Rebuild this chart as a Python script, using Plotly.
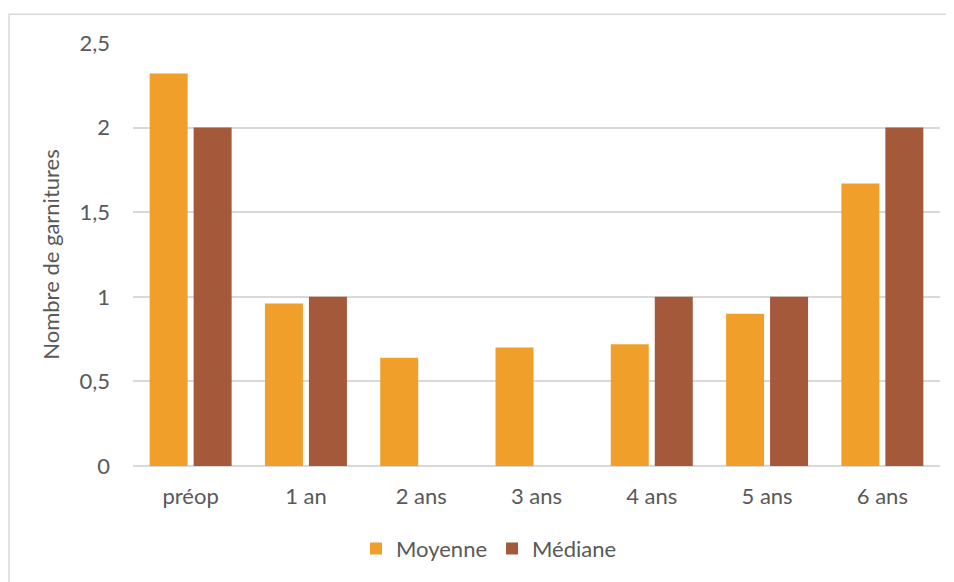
import plotly.graph_objects as go

categories = ["préop", "1 an", "2 ans", "3 ans", "4 ans", "5 ans", "6 ans"]
moyenne = [2.32, 0.96, 0.64, 0.70, 0.72, 0.90, 1.67]
mediane = [2.0, 1.0, 0.0, 0.0, 1.0, 1.0, 2.0]
y_tickvals = [0, 0.5, 1, 1.5, 2, 2.5]
y_ticktext = ["0", "0,5", "1", "1,5", "2", "2,5"]

FONT = "Lato, 'Open Sans', sans-serif"
GREY = "#595959"
FS = 22

fig = go.Figure()
fig.add_trace(go.Bar(
    name="Moyenne", x=categories, y=moyenne,
    marker=dict(color="#F0A02A", line=dict(width=0)),
))
fig.add_trace(go.Bar(
    name="Médiane", x=categories, y=mediane,
    marker=dict(color="#A4593A", line=dict(width=0)),
))

# page body has an 8px margin, so figure coordinates = page - 8
W, H = 946, 574
L, R, T, B = 125, 14, 35, 114
pw, ph = W - L - R, H - T - B

def px_x(x):
    return (x - L) / pw

def px_y(y):
    return (H - B - y) / ph

fig.add_shape(type="rect", xref="paper", yref="paper",
              x0=px_x(1), x1=px_x(990), y0=px_y(620), y1=px_y(6),
              line=dict(color="#D9D9D9", width=1.5), fillcolor="rgba(0,0,0,0)",
              layer="below")

fig.update_layout(
    width=W, height=H,
    margin=dict(l=L, r=R, t=T, b=B),
    paper_bgcolor="white", plot_bgcolor="white",
    barmode="group", bargap=0.237, bargroupgap=0.136,
    font=dict(family=FONT, color=GREY, size=FS),
    showlegend=True,
    legend=dict(orientation="h", x=px_x(481), xanchor="center",
                y=px_y(543), yanchor="middle",
                font=dict(size=FS, color=GREY), itemwidth=30,
                traceorder="normal"),
    xaxis=dict(showgrid=False, showline=False, zeroline=False,
               ticks="", ticklabelstandoff=15,
               tickfont=dict(size=FS, color=GREY)),
    yaxis=dict(range=[0, 2.5], tickvals=y_tickvals, ticktext=y_ticktext,
               showgrid=True, gridcolor="#D9D9D9", gridwidth=1.5,
               zeroline=True, zerolinecolor="#D9D9D9", zerolinewidth=1.5,
               showline=False, ticks="", ticklabelstandoff=22,
               tickfont=dict(size=FS, color=GREY),
               title=dict(text="Nombre de garnitures", standoff=13,
                          font=dict(size=FS, color=GREY))),
)

fig.write_html("out.html")
